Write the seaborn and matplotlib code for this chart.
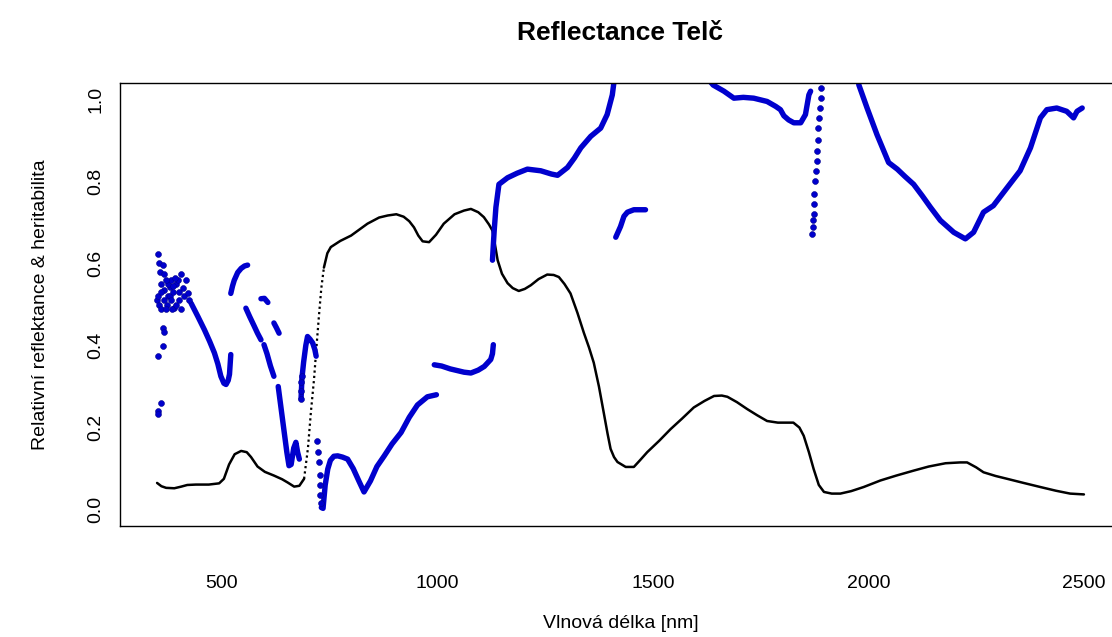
import numpy as np
import pandas as pd
import matplotlib
matplotlib.use("Agg")
import matplotlib.pyplot as plt
import seaborn as sns

# reflectance (black curve)
refl_nm = [350, 360, 371, 390, 406, 420, 440, 470, 494, 505, 517, 530, 545, 558, 568, 583, 600, 621, 640, 653,
           668, 680, 691, 700, 707, 714, 720, 726, 731, 737, 745, 753, 775, 800, 838, 865, 885, 905, 922, 935,
           946, 956, 966, 981, 997, 1015, 1040, 1062, 1078, 1095, 1108, 1120, 1128, 1134, 1140, 1150, 1163, 1175, 1189, 1203,
           1217, 1235, 1255, 1270, 1282, 1295, 1309, 1325, 1340, 1352, 1363, 1375, 1386, 1395, 1402, 1410, 1418, 1437, 1456, 1470,
           1487, 1515, 1541, 1568, 1595, 1620, 1642, 1660, 1673, 1695, 1719, 1742, 1765, 1790, 1826, 1840, 1850, 1862, 1873, 1885,
           1897, 1915, 1935, 1960, 1989, 2028, 2065, 2105, 2140, 2179, 2213, 2229, 2250, 2267, 2295, 2322, 2360, 2399, 2435, 2468, 2500]
refl_val = [0.065, 0.057, 0.053, 0.052, 0.056, 0.060, 0.061, 0.061, 0.064, 0.075, 0.110, 0.135, 0.143, 0.140, 0.128, 0.105, 0.092, 0.083, 0.074, 0.066,
            0.056, 0.058, 0.075, 0.150, 0.240, 0.317, 0.400, 0.479, 0.540, 0.590, 0.625, 0.640, 0.655, 0.668, 0.697, 0.712, 0.717, 0.720, 0.714, 0.703,
            0.688, 0.668, 0.654, 0.652, 0.670, 0.697, 0.720, 0.729, 0.733, 0.725, 0.713, 0.695, 0.680, 0.645, 0.608, 0.575, 0.552, 0.540, 0.533, 0.538,
            0.547, 0.562, 0.573, 0.572, 0.567, 0.550, 0.527, 0.480, 0.431, 0.395, 0.358, 0.300, 0.237, 0.185, 0.148, 0.128, 0.116, 0.104, 0.104, 0.120,
            0.140, 0.168, 0.196, 0.222, 0.249, 0.265, 0.277, 0.278, 0.275, 0.262, 0.245, 0.230, 0.216, 0.212, 0.212, 0.200, 0.180, 0.140, 0.099, 0.060,
            0.043, 0.039, 0.039, 0.045, 0.055, 0.071, 0.083, 0.095, 0.105, 0.113, 0.115, 0.115, 0.103, 0.091, 0.082, 0.075, 0.065, 0.055, 0.046, 0.039, 0.037]

# heritability (blue), continuous stretches
her_nm = [
    [429, 445, 460, 472, 483, 491, 498, 505, 510, 515, 518, 521],
    [521, 525, 529, 537, 545, 553, 560],
    [556, 565, 575, 583, 591],
    [591, 599, 607],
    [598, 605, 613, 621],
    [621, 627, 633],
    [631, 636, 641, 646, 651, 656, 661, 667, 672, 676, 680],
    [684, 686, 690, 695, 699, 705, 711, 716, 719],
    [731, 735, 740, 746, 752, 760, 769, 780, 792, 805, 818, 830, 845, 860, 877, 895, 916, 935, 954, 977, 998],
    [993, 1010, 1030, 1050, 1062, 1078, 1095, 1109, 1124, 1128, 1130],
    [1128, 1130, 1132, 1136, 1143, 1163, 1185, 1209, 1240, 1265, 1279, 1302, 1318, 1333, 1356, 1379, 1394, 1406, 1412],
    [1414, 1425, 1433, 1441, 1456, 1483],
    [1620, 1640, 1665, 1688, 1710, 1734, 1765, 1785, 1796, 1804, 1815, 1827, 1843, 1854, 1862, 1866],
    [1975, 1978, 1997, 2020, 2047, 2067, 2085, 2105, 2125, 2144, 2167, 2198, 2225, 2244, 2267, 2290, 2322, 2352, 2376,
     2399, 2414, 2437, 2460, 2476, 2484, 2496],
]
her_val = [
    [0.503, 0.470, 0.438, 0.410, 0.382, 0.355, 0.325, 0.308, 0.305, 0.315, 0.330, 0.378],
    [0.527, 0.545, 0.559, 0.578, 0.588, 0.594, 0.596],
    [0.491, 0.470, 0.448, 0.430, 0.414],
    [0.514, 0.515, 0.505],
    [0.402, 0.380, 0.350, 0.325],
    [0.455, 0.443, 0.430],
    [0.300, 0.260, 0.220, 0.180, 0.140, 0.107, 0.110, 0.150, 0.164, 0.140, 0.123],
    [0.270, 0.320, 0.360, 0.400, 0.422, 0.415, 0.406, 0.390, 0.374],
    [0.005, 0.003, 0.060, 0.099, 0.120, 0.130, 0.131, 0.128, 0.123, 0.100, 0.070, 0.043, 0.070, 0.105, 0.131, 0.160, 0.188,
     0.225, 0.255, 0.275, 0.280],
    [0.353, 0.350, 0.343, 0.338, 0.335, 0.333, 0.340, 0.349, 0.366, 0.380, 0.402],
    [0.608, 0.645, 0.680, 0.737, 0.793, 0.809, 0.820, 0.830, 0.826, 0.818, 0.815, 0.834, 0.857, 0.882, 0.910, 0.930, 0.963,
     1.011, 1.060],
    [0.664, 0.690, 0.715, 0.725, 0.731, 0.731],
    [1.060, 1.035, 1.020, 1.003, 1.005, 1.003, 0.995, 0.983, 0.975, 0.960, 0.950, 0.943, 0.943, 0.963, 1.011, 1.020],
    [1.060, 1.035, 0.979, 0.914, 0.846, 0.830, 0.812, 0.793, 0.765, 0.737, 0.705, 0.676, 0.660, 0.676, 0.725, 0.741, 0.785,
     0.826, 0.882, 0.955, 0.975, 0.979, 0.971, 0.955, 0.971, 0.979],
]

# heritability, isolated points
dot_nm = [352, 354, 356, 358, 349, 351, 355, 360, 363, 367, 363, 367, 363, 353, 358, 352, 351, 367, 372, 375,
          379, 379, 383, 387, 390, 394, 398, 402, 406, 410, 413, 417, 421, 425, 370, 385, 395, 400, 405, 360,
          365, 376, 382, 388, 392, 370, 683, 684, 685, 686,
          722, 724, 726, 727, 728, 729, 730,
          1870, 1871, 1872, 1873, 1874, 1875, 1877, 1878, 1880, 1881, 1883, 1884, 1886, 1888, 1890, 1891]
dot_val = [0.622, 0.600, 0.580, 0.550, 0.510, 0.520, 0.500, 0.490, 0.596, 0.575, 0.442, 0.434, 0.398, 0.374, 0.261, 0.240, 0.232, 0.535, 0.500, 0.520,
           0.543, 0.520, 0.510, 0.530, 0.491, 0.550, 0.559, 0.530, 0.575, 0.540, 0.520, 0.559, 0.527, 0.511, 0.490, 0.490, 0.500, 0.510, 0.490, 0.530,
           0.510, 0.550, 0.560, 0.545, 0.565, 0.560, 0.270, 0.290, 0.310, 0.325,
           0.168, 0.140, 0.116, 0.085, 0.059, 0.035, 0.015,
           0.672, 0.690, 0.705, 0.721, 0.745, 0.769, 0.800, 0.826, 0.850, 0.874, 0.900, 0.930, 0.955, 0.979, 1.003, 1.027]

x_ticks = [500, 1000, 1500, 2000, 2500]
y_ticks = [0.0, 0.2, 0.4, 0.6, 0.8, 1.0]

refl = pd.DataFrame({"nm": refl_nm, "val": refl_val})
# the steep rise around 700 nm shows up as separate dots in the original
steep = refl[(refl.nm >= 691) & (refl.nm <= 737)]
her = pd.DataFrame({
    "nm": [v for s in her_nm for v in s],
    "val": [v for s in her_val for v in s],
    "seg": [i for i, s in enumerate(her_nm) for _ in s],
})
dots = pd.DataFrame({"nm": dot_nm, "val": dot_val})

sns.set_style("white")
plt.rcParams["font.family"] = ["Liberation Sans", "DejaVu Sans"]
plt.rcParams["text.color"] = "black"
plt.rcParams["axes.labelcolor"] = "black"

blue = "#0000cd"
fig = plt.figure(figsize=(11.12, 6.37), dpi=100)
ax = fig.add_axes([120 / 1112, 111 / 637, 1001 / 1112, 443 / 637])

sns.lineplot(data=refl[refl.nm <= 691], x="nm", y="val", color="black", lw=1.8, sort=False, ax=ax)
sns.lineplot(data=steep, x="nm", y="val", color="black", lw=1.6, ls=(0, (1, 1.4)), sort=False, ax=ax)
sns.lineplot(data=refl[refl.nm >= 737], x="nm", y="val", color="black", lw=1.8, sort=False, ax=ax)
sns.lineplot(data=her, x="nm", y="val", units="seg", estimator=None, sort=False,
             color=blue, lw=3.9, solid_capstyle="round", ax=ax)
sns.scatterplot(data=dots, x="nm", y="val", color=blue, s=18, edgecolor="#00008b",
                linewidth=0.4, ax=ax, zorder=3)

ax.set_xlim(264, 2586)
ax.set_ylim(-0.04, 1.04)
ax.set_xticks(x_ticks)
ax.set_xticklabels([str(t) for t in x_ticks])
ax.set_yticks(y_ticks)
ax.set_yticklabels([f"{t:.1f}" for t in y_ticks], rotation=90, va="center")
ax.tick_params(direction="out", length=8, width=1, colors="black", labelsize=14, pad=27)
ax.tick_params(axis="y", pad=3)
for sp in ax.spines.values():
    sp.set_color("black")
    sp.set_linewidth(1)

ax.set_xlabel("Vlnová délka [nm]", fontsize=14, labelpad=17)
ax.set_ylabel("Relativní reflektance & heritabilita", fontsize=14, labelpad=28)
fig.text(620 / 1112, 1 - 33 / 637, "Reflectance Telč", ha="center", va="center",
         fontsize=19, fontweight="bold", color="black")

fig.savefig("out.png", dpi=100, facecolor="white")
